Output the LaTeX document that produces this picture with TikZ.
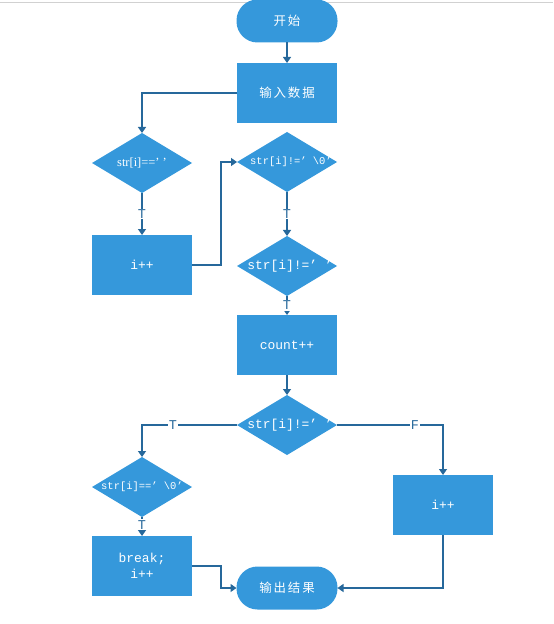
\documentclass[tikz,border=0pt]{standalone}
\usepackage{fontspec}
\setmainfont{Liberation Serif}
\setmonofont{Liberation Mono}
\newfontfamily\cjk[LetterSpace=15]{Noto Sans CJK SC}
\usetikzlibrary{shapes.geometric,arrows.meta}
\definecolor{fillblue}{RGB}{53,152,219}
\definecolor{lineblue}{RGB}{38,104,155}
\tikzset{
  base/.style={fill=fillblue, draw=none, text=white, inner sep=0pt, outer sep=0pt, align=center},
  procbox/.style={base, minimum width=100bp, minimum height=60bp, font=\ttfamily\fontsize{13}{16}\selectfont},
  term/.style={base, rounded corners=21bp, minimum width=101bp, minimum height=43bp, font=\cjk\fontsize{12.5}{14}\selectfont},
  decision/.style={base, diamond, minimum width=100bp, minimum height=60bp},
  dtext/.style={text=white, inner sep=0pt},
  conn/.style={draw=lineblue, line width=1.3bp, -{Triangle[width=8bp,length=6bp]}},
  lbl/.style={fill=white, text=lineblue, font=\ttfamily\fontsize{13.5}{14}\selectfont, inner sep=1pt},
}
\begin{document}
\begin{tikzpicture}[x=1bp,y=-1bp]
\useasboundingbox (0,0) rectangle (554,624);
\draw[black!18, line width=1bp] (0,3) -- (553,3);

\node[term] (start) at (287,21) {开始};
\node[procbox, font=\cjk\fontsize{12.5}{14}\selectfont] (input) at (287,93) {输入数据};
\node[decision] (d1) at (142,163) {};
\node[dtext, font=\fontsize{12.5}{14}\selectfont] (d1t) at (142,163) {str[i]==’ ’};
\node[decision] (d2) at (287,162) {};
\node[dtext, font=\ttfamily\fontsize{10.5}{12}\selectfont] (d2t) at (291,162) {str[i]!=’ \textbackslash0’};
\node[procbox] (b1) at (142,265) {i++};
\node[decision] (d3) at (287,266) {};
\node[dtext, font=\ttfamily\fontsize{13}{14}\selectfont] (d3t) at (290,266) {str[i]!=’ ’};
\node[procbox] (cnt) at (287,345) {count++};
\node[decision] (d4) at (287,425) {};
\node[dtext, font=\ttfamily\fontsize{13}{14}\selectfont] (d4t) at (290,425) {str[i]!=’ ’};
\node[decision] (d5) at (142,487) {};
\node[dtext, font=\ttfamily\fontsize{10.5}{12}\selectfont] (d5t) at (142,487) {str[i]==’ \textbackslash0’};
\node[procbox] (b2) at (443,505) {i++};
\node[procbox] (brk) at (142,566) {break;\\i++};
\node[term] (stop) at (287,588) {输出结果};

\draw[conn] (start) -- (input);
\draw[conn] (input.west) -| (d1.north);
\draw[conn] (d1) -- node[lbl]{T} (b1);
\draw[conn] (b1.east) -- ++(29,0) |- (d2.west);
\draw[conn] (d2) -- node[lbl]{T} (d3);
\draw[conn] (d3) -- node[lbl]{T} (cnt);
\draw[conn] (cnt) -- (d4);
\draw[conn] (d4.west) -| node[lbl, pos=0.337]{T} (d5.north);
\draw[conn] (d4.east) -| node[lbl, pos=0.368]{F} (b2.north);
\draw[conn] (d5) -- node[lbl, pos=0.4]{T} (brk);
\draw[conn] (brk.east) -- ++(29,0) |- (stop.west);
\draw[conn] (b2.south) |- (stop.east);
\end{tikzpicture}
\end{document}
